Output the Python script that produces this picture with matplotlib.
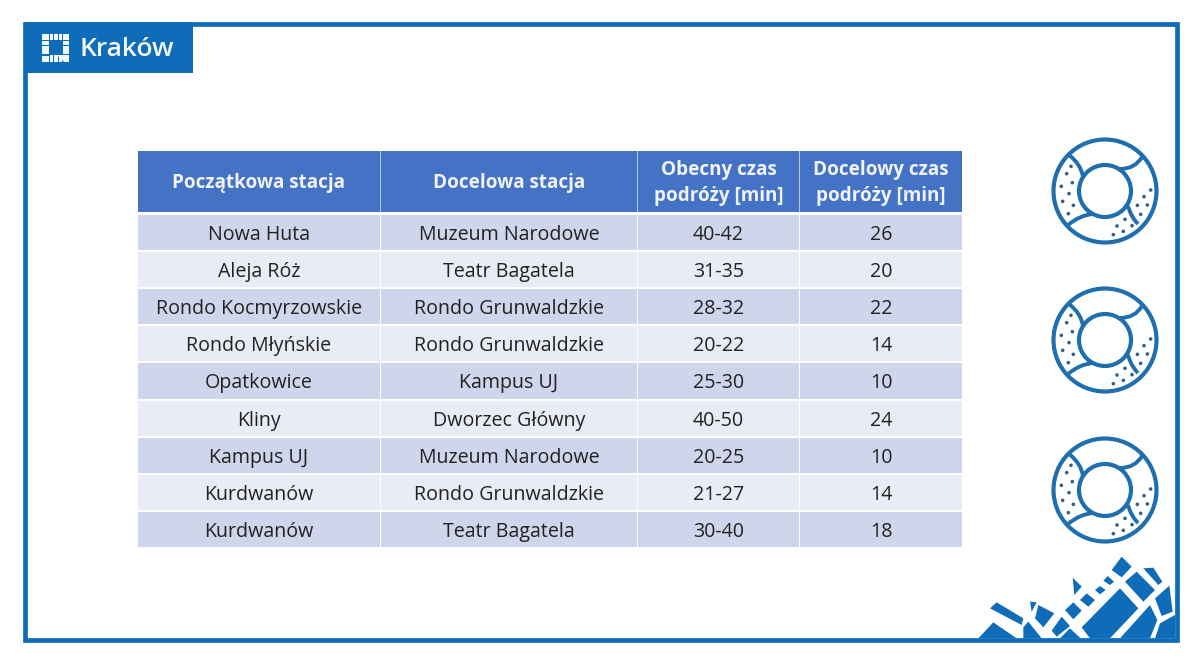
import matplotlib
matplotlib.use("Agg")
import matplotlib.pyplot as plt
from matplotlib.patches import Rectangle, Circle, Polygon, PathPatch
from matplotlib.path import Path

start_stations = ["Nowa Huta", "Aleja Róż", "Rondo Kocmyrzowskie", "Rondo Młyńskie",
                  "Opatkowice", "Kliny", "Kampus UJ", "Kurdwanów", "Kurdwanów"]
end_stations = ["Muzeum Narodowe", "Teatr Bagatela", "Rondo Grunwaldzkie", "Rondo Grunwaldzkie",
                "Kampus UJ", "Dworzec Główny", "Muzeum Narodowe", "Rondo Grunwaldzkie", "Teatr Bagatela"]
current_times = ["40-42", "31-35", "28-32", "20-22", "25-30", "40-50", "20-25", "21-27", "30-40"]
target_times = ["26", "20", "22", "14", "10", "24", "10", "14", "18"]
headers = ["Początkowa stacja", "Docelowa stacja", "Obecny czas\npodróży [min]", "Docelowy czas\npodróży [min]"]

BLUE = "#0f6cb8"
ICON = "#1f6fae"
HEADER = "#4472c4"
BANDS = ["#cfd5ea", "#e9ebf5"]
TEXT = "#222222"

col_edges = [138, 381, 638, 800, 963]
row_top = 214.5
row_step = 37.2

plt.rcParams["font.family"] = ["Open Sans", "DejaVu Sans"]

fig = plt.figure(figsize=(12, 6.68), dpi=100)
ax = fig.add_axes([0, 0, 1, 1])
ax.set_xlim(0, 1200)
ax.set_ylim(668, 0)
ax.axis("off")

# frame and logo tab
ax.add_patch(Rectangle((25, 24), 1152, 616, fill=False, ec=BLUE, lw=3.4))
ax.add_patch(Rectangle((24, 22), 169, 51, fc=BLUE, ec="none"))
ax.text(80, 50, "Kraków", color="#f2f7fc", fontsize=19, fontweight="semibold", va="center", ha="left")


def block(x, y, w, h):
    ax.add_patch(Rectangle((x, y), w, h, fc="#f2f7fc", ec="none"))


# logo mark, a ring of small blocks
for x in [49.5, 54, 58.5]:
    block(x, 33.5, 3.8, 6.5)
    block(x, 55, 3.8, 6.5)
for y in [41, 45.7, 50.4]:
    block(42, y, 6.5, 3.8)
    block(62.5, y, 6.5, 3.8)
block(42, 33.5, 6.5, 6.5)
block(63, 33.5, 6, 6.5)
block(42, 55.5, 6.5, 6)
ax.add_patch(Polygon([(57, 55), (69, 55), (69, 62), (64, 62)], fc="#f2f7fc", ec="none"))

# table
ax.add_patch(Rectangle((138, 151), 824, 61, fc="#b9c9ea", ec="none"))
for c in range(4):
    x0, x1 = col_edges[c], col_edges[c + 1]
    ax.add_patch(Rectangle((x0, 151), x1 - x0 - 1.5, 61, fc=HEADER, ec="none"))
    ax.text((x0 + x1) / 2 - 0.5, 183, headers[c], color="#f0f3fa", fontsize=13.6, fontweight="bold",
            ha="center", va="center", linespacing=1.45)

columns = [start_stations, end_stations, current_times, target_times]
for r in range(len(start_stations)):
    y0 = row_top + r * row_step
    for c, col in enumerate(columns):
        x0, x1 = col_edges[c], col_edges[c + 1]
        ax.add_patch(Rectangle((x0, y0), x1 - x0 - 1.5, row_step - 2, fc=BANDS[r % 2], ec="none"))
        ax.text((x0 + x1) / 2 - 0.5, y0 + row_step / 2 + 1.5, col[r], color=TEXT, fontsize=14.1,
                ha="center", va="center")

# lifebuoy icons
dots = [(123, 138), (110, 160), (127, 187), (94, 198), (117, 220), (98, 243), (130, 255), (115, 280),
        (362, 209), (342, 229), (322, 255), (352, 254), (332, 282), (285, 297), (306, 316), (261, 317),
        (280, 333), (250, 343)]
seams = [[(-36, -36), (-24, -27), (-22, -14)], [(37, -34), (30, -22), (15, -22)],
         [(-37, 34), (-25, 24), (-12, 23)], [(33, 33), (26, 26), (23, 15)]]
for cy in [191, 340, 490]:
    cx = 1105
    ax.add_patch(Circle((cx, cy), 51.5, fill=False, ec=ICON, lw=3))
    ax.add_patch(Circle((cx, cy), 26, fill=False, ec=ICON, lw=3))
    for seam in seams:
        pts = [(cx + px, cy + py) for px, py in seam]
        ax.add_patch(PathPatch(Path(pts, [Path.MOVETO, Path.CURVE3, Path.CURVE3]), fill=False, ec=ICON, lw=2.8))
    for dx, dy in dots:
        ax.add_patch(Circle((cx + (dx - 225) / 3, cy + (dy - 212) / 3), 1.8, fc="#35607f", ec="none"))

# city map pieces in the corner, outlines in crop pixels
pieces = [
    [(90, 205), (110, 187), (190, 235), (185, 255)],
    [(55, 295), (100, 247), (170, 295)],
    [(210, 185), (230, 187), (215, 215)],
    [(235, 195), (283, 220), (250, 262), (225, 235)],
    [(190, 262), (205, 245), (245, 295), (190, 295)],
    [(275, 272), (305, 230), (330, 258), (290, 290)],
    [(315, 210), (340, 187), (365, 212), (340, 238)],
    [(338, 113), (365, 140), (343, 165)],
    [(360, 180), (380, 160), (405, 180), (385, 200)],
    [(405, 150), (420, 138), (437, 150), (420, 163)],
    [(430, 122), (443, 108), (462, 125), (450, 135)],
    [(455, 90), (485, 50), (515, 80), (485, 112)],
    [(365, 262), (480, 145), (535, 205), (450, 295), (390, 295)],
    [(495, 125), (530, 95), (585, 150), (550, 185)],
    [(550, 85), (580, 83), (607, 125), (595, 135)],
    [(585, 175), (628, 137), (638, 215), (605, 228)],
    [(480, 295), (570, 195), (592, 240), (570, 295)],
    [(600, 250), (645, 225), (645, 295), (585, 295)],
    [(300, 295), (330, 265), (362, 295)],
]
for piece in pieces:
    pts = [(960 + px / 3, 540 + py / 3) for px, py in piece]
    ax.add_patch(Polygon(pts, fc=BLUE, ec="none"))

fig.savefig("out.png", dpi=100)
